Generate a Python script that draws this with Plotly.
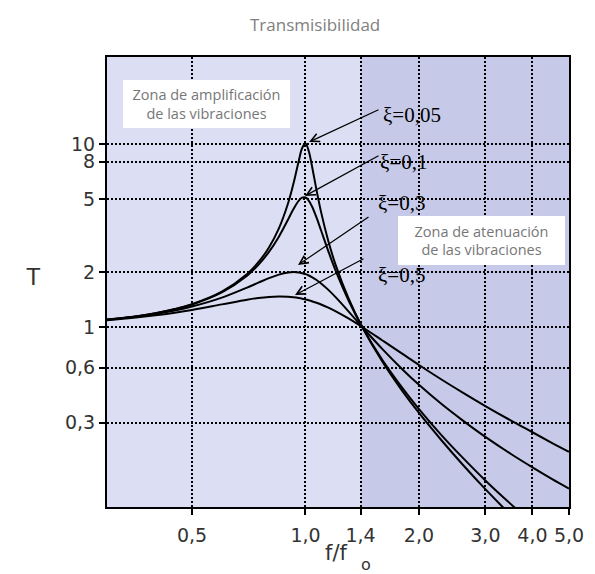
import math
import plotly.graph_objects as go

# ---- data ----
ratio = [0.29, 0.35, 0.4, 0.45, 0.5, 0.6, 0.7, 0.75, 0.8, 0.85, 0.9, 0.93, 0.96, 0.98,
         1.0, 1.02, 1.04, 1.07, 1.1, 1.15, 1.2, 1.3, 1.414, 1.6, 1.8, 2.0, 2.3, 2.6,
         3.0, 3.5, 4.0, 4.5, 5.0]
t_005 = [1.092, 1.139, 1.190, 1.253, 1.332, 1.559, 1.947, 2.259, 2.720, 3.458, 4.776, 6.123,
         8.105, 9.506, 10.05, 9.162, 7.605, 5.583, 4.244, 2.940, 2.208, 1.436, 1.0, 0.646,
         0.452, 0.339, 0.239, 0.179, 0.130, 0.094, 0.072, 0.057, 0.046]
t_01 = [1.092, 1.139, 1.189, 1.251, 1.328, 1.547, 1.909, 2.186, 2.571, 3.117, 3.882, 4.425,
        4.910, 5.096, 5.099, 4.908, 4.571, 3.957, 3.367, 2.591, 2.052, 1.401, 1.0, 0.659,
        0.469, 0.356, 0.255, 0.195, 0.145, 0.108, 0.085, 0.069, 0.058]
t_03 = [1.089, 1.133, 1.177, 1.230, 1.293, 1.447, 1.642, 1.747, 1.849, 1.933, 1.985, 1.995,
        1.985, 1.968, 1.944, 1.912, 1.873, 1.806, 1.730, 1.595, 1.460, 1.218, 1.0, 0.757,
        0.592, 0.483, 0.378, 0.311, 0.251, 0.203, 0.171, 0.148, 0.131]
t_05 = [1.084, 1.122, 1.158, 1.198, 1.240, 1.329, 1.409, 1.440, 1.460, 1.468, 1.463, 1.453,
        1.439, 1.428, 1.414, 1.399, 1.383, 1.356, 1.328, 1.276, 1.222, 1.114, 1.0, 0.844,
        0.717, 0.620, 0.515, 0.441, 0.370, 0.309, 0.266, 0.233, 0.208]
series = [t_005, t_01, t_03, t_05]
labels = ["ξ=0,05", "ξ=0,1", "ξ=0,3", "ξ=0,5"]

x_ticks = [0.5, 1.0, 1.4, 2.0, 3.0, 4.0, 5.0]
x_tick_text = ["0,5", "1,0", "1,4", "2,0", "3,0", "4,0", "5,0"]
y_ticks = [0.3, 0.6, 1, 2, 5, 8, 10]
y_tick_text = ["0,3", "0,6", "1", "2", "5", "8", "10"]
zone_split = 1.4

W, H = 595, 574
L, R, T, B = 99, 561, 49, 499


def PX(x):
    return (x - L) / (R - L)


def PY(y):
    return (B - y) / (B - T)


fig = go.Figure()
for s in series:
    fig.add_trace(go.Scatter(x=ratio, y=s, mode="lines",
                             line=dict(color="black", width=2, shape="spline", smoothing=1.0),
                             showlegend=False, hoverinfo="skip"))

# attenuation zone shading
fig.add_shape(type="rect", xref="x", yref="paper", x0=zone_split, x1=6.0, y0=0, y1=1,
              fillcolor="#C6CAE8", line_width=0, layer="below")

tick_font = dict(family="DejaVu Sans, sans-serif", size=19, color="#333333")
axis_common = dict(type="log", showline=True, linecolor="black", linewidth=2, mirror=True,
                   ticks="outside", ticklen=6, tickwidth=1.5, tickcolor="black",
                   showgrid=True, gridcolor="black", gridwidth=1.5, griddash="2px,2px",
                   zeroline=False, tickfont=tick_font)

fig.update_layout(
    width=W, height=H,
    margin=dict(l=L, r=W - R, t=T, b=H - B),
    paper_bgcolor="white",
    plot_bgcolor="#DCDFF3",
    xaxis=dict(range=[-0.5265, math.log10(5.0)], tickvals=x_ticks, ticktext=x_tick_text,
               ticklabelstandoff=4, **axis_common),
    yaxis=dict(range=[-0.9836, 1.4754], tickvals=y_ticks, ticktext=y_tick_text,
               **axis_common),
)


def txt(x, y, text, font, xanchor="center", **kw):
    return dict(x=PX(x), y=PY(y), xref="paper", yref="paper", text=text, showarrow=False,
                xanchor=xanchor, yanchor="middle", font=font, **kw)


ann = []
ann.append(txt(307, 17, "Transmisibilidad", dict(family="Open Sans", size=17, color="#808080")))
ann.append(txt(25, 268, "T", dict(family="Liberation Sans, Arial", size=24, color="#333333")))
ann.append(txt(341, 545, "f/f", dict(family="DejaVu Sans", size=21, color="#333333"),
               xanchor="right"))
ann.append(txt(351, 556, "o", dict(family="DejaVu Sans", size=16, color="#333333"),
               xanchor="left"))
box_font = dict(family="Open Sans", size=14.5, color="#777777")
ann.append(txt(198.5, 96, "Zona de amplificación<br>de las vibraciones", box_font,
               bgcolor="white", borderwidth=0, borderpad=3, width=161, height=42))
ann.append(txt(473.5, 232.5, "Zona de atenuación<br>de las vibraciones", box_font,
               bgcolor="white", borderwidth=0, borderpad=3, width=161, height=43))

# arrows: tip pixel, tail offset
arrows = [((301, 134), (71, -33)), ((297, 188), (75, -41)),
          ((290, 257), (72, -49)), ((287, 287), (70, -37))]
for (tx, ty), (ax, ay) in arrows:
    ann.append(dict(x=PX(tx), y=PY(ty), xref="paper", yref="paper", text="", showarrow=True,
                    ax=ax, ay=ay, arrowhead=5, arrowsize=1.4, arrowwidth=1.2, arrowcolor="black",
                    standoff=0, startstandoff=0))
label_pos = [(373, 107), (370, 154), (368, 195), (368, 267)]
serif = dict(family="Liberation Serif, Times New Roman, serif", size=21, color="black")
for (lx, ly), t in zip(label_pos, labels):
    ann.append(txt(lx, ly, t, serif, xanchor="left"))

fig.update_layout(annotations=ann)
fig.write_html("out.html")
